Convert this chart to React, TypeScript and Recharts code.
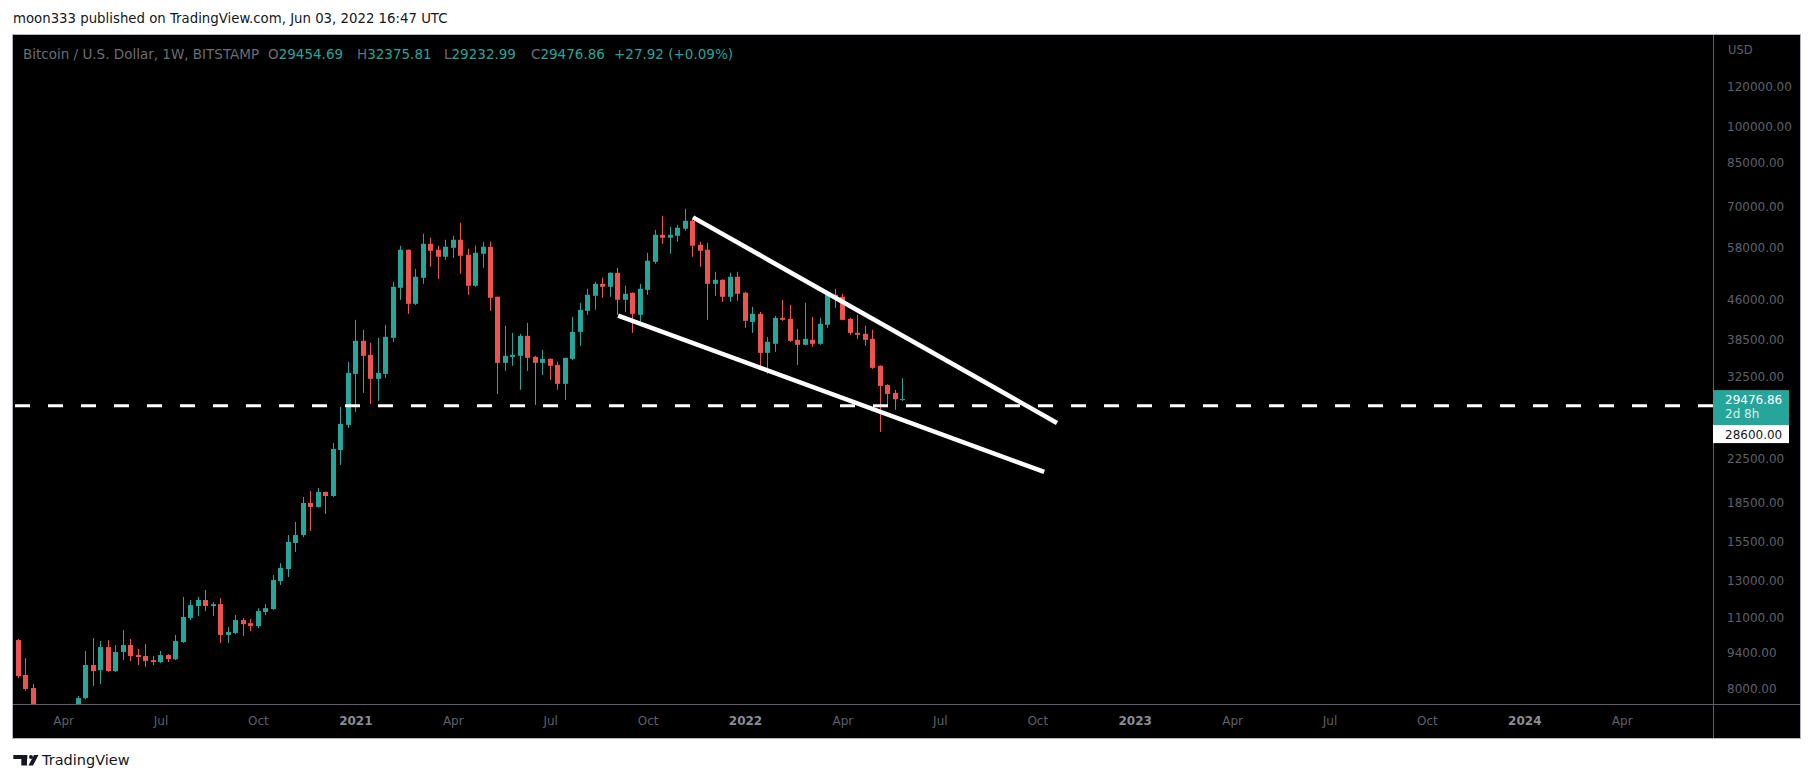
import React from "react";
import { ComposedChart, Bar, XAxis, YAxis, ReferenceLine } from "recharts";

const DAY = 86400000;
const EPOCH = Date.UTC(2020, 0, 1);
const toDay = (iso: string) => (Date.parse(iso + "T00:00:00Z") - EPOCH) / DAY;

const TEAL = "#26a69a";
const RED = "#ef5350";
const FONT = "'DejaVu Sans', Verdana, sans-serif";

// weekly candles, BTC/USD Bitstamp, first week starts 2020-02-17
const firstWeek = "2020-02-17";
const opens = [
  9700, 9980, 8530, 8045, 5360, 5830, 5880, 6780, 6900, 7120,
  7690, 8920, 8720, 9670, 8680, 9460, 9760, 9330, 9290, 9120,
  9040, 9330, 9160, 9890, 11020, 11630, 11950, 11630, 11730, 10210,
  10300, 10920, 10770, 10630, 11320, 11470, 13010, 13730, 15440, 16000,
  18480, 18150, 19420, 19070, 23450, 26250, 33010, 38300, 35960, 32280,
  33010, 38820, 48610, 57670, 45230, 50850, 59240, 57670, 55880, 58190,
  60320, 56380, 49050, 56640, 58450, 46700, 34690, 35640, 35800, 39170,
  35640, 34690, 35320, 34380, 31570, 35320, 39870, 43830, 46890, 49490,
  48830, 52000, 46050, 47530, 43050, 48170, 54640, 61690, 60870, 61410,
  63390, 65700, 58980, 57670, 49490, 50390, 46680, 51070, 47530, 41710,
  43240, 36280, 37790, 42470, 42280, 38470, 37620, 38470, 37790, 41160,
  47100, 46680, 42280, 39700, 39520, 38640, 34230, 31420, 30310, 29454.69,
];
const highs = [
  10250, 10030, 9205, 8190, 6900, 6990, 7200, 7460, 7300, 7760,
  9500, 10070, 9940, 9980, 9760, 10440, 10030, 9590, 9800, 9290,
  9500, 9370, 10210, 12110, 11950, 12110, 12500, 11840, 12050, 10580,
  11170, 11020, 10970, 11520, 11730, 13370, 14110, 16000, 16970, 18990,
  19510, 19770, 19450, 24200, 28460, 34850, 42090, 40240, 37950, 38820,
  41150, 49940, 58720, 57700, 52940, 61970, 60870, 58720, 60320, 61410,
  65110, 57930, 58720, 59780, 59780, 46700, 40970, 39700, 39520, 41530,
  35800, 36780, 35400, 34850, 35500, 42660, 45440, 48390, 49940, 50850,
  52100, 53180, 49050, 47600, 49490, 56900, 63100, 67200, 63960, 64530,
  69350, 66590, 59780, 59510, 52230, 50500, 52000, 52230, 47740, 44620,
  43630, 38990, 42850, 46050, 45030, 40430, 45440, 42660, 42470, 47200,
  48390, 47310, 42470, 43050, 40970, 40240, 34300, 31500, 30720, 32375.81,
];
const lows = [
  9300, 8410, 7950, 3850, 4440, 5690, 5860, 6770, 6460, 6790,
  7650, 8120, 8190, 8650, 8645, 9120, 9080, 8920, 8840, 8920,
  9000, 9040, 9120, 9850, 10920, 11120, 11370, 11120, 9850, 9850,
  10250, 10160, 10390, 10530, 11170, 11420, 12780, 13250, 14830, 15850,
  16300, 18100, 17590, 19000, 21930, 25900, 27830, 30310, 28850, 29240,
  32430, 38120, 46050, 43240, 45000, 49490, 53420, 50620, 55130, 55630,
  51770, 47100, 48800, 53180, 43830, 30170, 33460, 34230, 30730, 33460,
  28720, 32870, 32140, 30730, 29370, 35100, 37450, 43050, 44030, 46470,
  46680, 43050, 43630, 39700, 40970, 47100, 54160, 59240, 56640, 59780,
  62820, 55880, 53420, 42090, 46890, 45640, 45640, 45850, 40610, 39700,
  34070, 33010, 36450, 41900, 38120, 34380, 37500, 37280, 37620, 40610,
  44430, 42000, 39350, 38640, 37450, 33760, 25430, 28720, 28090, 29232.99,
];
const closes = [
  9980, 8490, 8010, 5360, 5830, 5880, 6780, 6900, 7120, 7690,
  8920, 8680, 9670, 8680, 9460, 9760, 9290, 9245, 9080, 9040,
  9330, 9160, 9940, 11070, 11680, 11950, 11630, 11730, 10210, 10350,
  10920, 10720, 10630, 11370, 11520, 13070, 13800, 15510, 16000, 18480,
  18150, 19420, 19070, 23560, 26370, 33160, 38300, 35800, 32280, 33160,
  38990, 48830, 57670, 45230, 51070, 59240, 57410, 55880, 58450, 60320,
  56130, 49050, 56900, 58450, 46470, 34690, 35800, 35960, 39170, 35480,
  34690, 35320, 34230, 31570, 35480, 39870, 44030, 47100, 49490, 48830,
  52000, 46050, 47310, 43240, 48390, 54890, 61690, 60870, 61690, 63670,
  65700, 58720, 57410, 49490, 50390, 46680, 51070, 47310, 41900, 43240,
  36280, 38120, 42470, 42090, 38300, 37620, 38640, 37790, 41340, 47100,
  46260, 42090, 39700, 39350, 38470, 33920, 31280, 30170, 29455, 29476.86,
];

// time axis: first weekly bar of each labelled month
const timeTicks = [
  "2020-04-06", "2020-07-06", "2020-10-05", "2021-01-04", "2021-04-05", "2021-07-05",
  "2021-10-04", "2022-01-03", "2022-04-04", "2022-07-04", "2022-10-03", "2023-01-02",
  "2023-04-03", "2023-07-03", "2023-10-02", "2024-01-01", "2024-04-01",
];
const timeLabels = [
  "Apr", "Jul", "Oct", "2021", "Apr", "Jul", "Oct", "2022", "Apr",
  "Jul", "Oct", "2023", "Apr", "Jul", "Oct", "2024", "Apr",
];

const priceTicks = [
  8000, 9400, 11000, 13000, 15500, 18500, 22500, 32500, 38500, 46000, 58000, 70000, 85000,
  100000, 120000,
];

// drawn wedge lines: [start date, start price, end date, end price]
const trendLines: [string, number, string, number][] = [
  ["2021-11-15", 66700, "2022-10-21", 26480],
  ["2021-09-06", 42900, "2022-10-09", 21250],
];
const levelPrice = 28600;
const lastPrice = 29476.86;

const rows = opens.map((o, i) => ({
  t: toDay(firstWeek) + 7 * i,
  o,
  h: highs[i],
  l: lows[i],
  c: closes[i],
}));

function Candle(props: any) {
  const { x, y, width, height, payload } = props;
  if (x == null || y == null || !payload) return null;
  const { o, h, l, c } = payload;
  const top = Math.min(y, y + height);
  const span = Math.abs(height);
  const lh = Math.log(h);
  const ll = Math.log(l);
  const py = (v: number) => top + (span * (lh - Math.log(v))) / (lh - ll);
  const color = c >= o ? TEAL : RED;
  const cx = Math.floor(x + width / 2);
  const bTop = py(Math.max(o, c));
  const bBot = py(Math.min(o, c));
  return (
    <g>
      <rect x={cx} y={top} width={1} height={span} fill={color} />
      <rect x={cx - 2} y={bTop} width={5} height={Math.max(1, bBot - bTop)} fill={color} />
    </g>
  );
}

function PriceTick(props: any) {
  const { x, y, payload } = props;
  return (
    <text x={x} y={y} dominantBaseline="central" textAnchor="start" fill="#5d606b" fontSize={12} fontFamily={FONT}>
      {Number(payload.value).toFixed(2)}
    </text>
  );
}

function TimeTick(props: any) {
  const { x, payload } = props;
  const i = timeTicks.findIndex((d) => Math.abs(toDay(d) - payload.value) < 0.01);
  const label = i >= 0 ? timeLabels[i] : "";
  const isYear = /^\d{4}$/.test(label);
  return (
    <text
      x={x}
      y={721}
      dominantBaseline="central"
      textAnchor="middle"
      fill={isYear ? "#8a8d96" : "#5d606b"}
      fontWeight={isYear ? "bold" : "normal"}
      fontSize={12}
      fontFamily={FONT}
    >
      {label}
    </text>
  );
}

function LastPriceLabel(props: any) {
  const vb = props.viewBox || {};
  const x = vb.x + vb.width;
  const y = vb.y;
  return (
    <g>
      <rect x={x} y={y - 9} width={76} height={35} fill={TEAL} />
      <text x={x + 12} y={y + 1} dominantBaseline="central" fill="#fff" fontSize={12} fontFamily={FONT}>
        {lastPrice.toFixed(2)}
      </text>
      <text x={x + 12} y={y + 15} dominantBaseline="central" fill="#d6efec" fontSize={12} fontFamily={FONT}>
        2d 8h
      </text>
      <rect x={x} y={y + 26} width={76} height={18} fill="#fff" />
      <text x={x + 12} y={y + 35.5} dominantBaseline="central" fill="#131722" fontSize={12} fontFamily={FONT}>
        {levelPrice.toFixed(2)}
      </text>
    </g>
  );
}

function Logo() {
  return (
    <svg width={30} height={12} style={{ position: "absolute", left: 13, top: 754 }}>
      <rect x={0.3} y={1} width={14} height={4} fill="#131722" />
      <rect x={8.3} y={1} width={5.7} height={10.5} fill="#131722" />
      <circle cx={18} cy={3} r={2} fill="#131722" />
      <polygon points="21,1 25.5,1 20,11.5 15.5,11.5" fill="#131722" />
    </svg>
  );
}

export default function App() {
  const txt: React.CSSProperties = { position: "absolute", fontFamily: FONT, whiteSpace: "nowrap", lineHeight: "16px" };
  const legendParts: [number, string, string][] = [
    [268, "O", "29454.69"],
    [357, "H", "32375.81"],
    [444, "L", "29232.99"],
    [531, "C", "29476.86"],
  ];
  return (
    <div style={{ position: "absolute", left: 0, top: 0, width: 1813, height: 783, background: "#fff", overflow: "hidden" }}>
      <div style={{ ...txt, left: 13, top: 11, fontSize: 13.3, color: "#131722" }}>
        moon333 published on TradingView.com, Jun 03, 2022 16:47 UTC
      </div>
      <div
        style={{
          position: "absolute",
          left: 12,
          top: 34,
          width: 1789,
          height: 705,
          boxSizing: "border-box",
          border: "1px solid #b2b5be",
          background: "#000",
        }}
      />
      <div style={{ position: "absolute", left: 1713, top: 35, width: 1, height: 703, background: "#5d606b" }} />
      <div style={{ position: "absolute", left: 13, top: 704, width: 1787, height: 1, background: "#5d606b" }} />
      <div style={{ position: "absolute", left: 0, top: 0 }}>
        <ComposedChart width={1813} height={783} data={rows} margin={{ top: 35, right: 13, bottom: 46, left: 13 }}>
          <XAxis
            type="number"
            dataKey="t"
            domain={[48.7, 1636.8]}
            allowDataOverflow
            ticks={timeTicks.map(toDay)}
            interval={0}
            height={33}
            axisLine={false}
            tickLine={false}
            tick={(p: any) => <TimeTick {...p} />}
          />
          <YAxis
            orientation="right"
            scale="log"
            domain={[7488, 151400]}
            allowDataOverflow
            ticks={priceTicks}
            interval={0}
            width={87}
            axisLine={false}
            tickLine={false}
            tickMargin={8}
            tick={(p: any) => <PriceTick {...p} />}
          />
          <Bar
            dataKey={(r: any) => [r.l, r.h]}
            barSize={5}
            isAnimationActive={false}
            shape={(p: any) => <Candle {...p} />}
          />
          <ReferenceLine y={lastPrice} stroke="none" label={(p: any) => <LastPriceLabel {...p} />} />
          <ReferenceLine y={levelPrice} stroke="#ffffff" strokeWidth={3} strokeDasharray="15 18" />
          {trendLines.map(([d1, p1, d2, p2], i) => (
            <ReferenceLine
              key={i}
              segment={[
                { x: toDay(d1), y: p1 },
                { x: toDay(d2), y: p2 },
              ]}
              stroke="#ffffff"
              strokeWidth={4.5}
            />
          ))}
        </ComposedChart>
      </div>
      <div style={{ ...txt, left: 23, top: 46, fontSize: 13.5, color: "#6a6d78" }}>
        Bitcoin / U.S. Dollar, 1W, BITSTAMP
      </div>
      {legendParts.map(([x, k, v]) => (
        <div key={k} style={{ ...txt, left: x, top: 46, fontSize: 13.5, color: "#6a6d78" }}>
          {k}
          <span style={{ color: TEAL }}>{v}</span>
        </div>
      ))}
      <div style={{ ...txt, left: 614, top: 46, fontSize: 13.5, color: TEAL }}>+27.92 (+0.09%)</div>
      <div style={{ ...txt, left: 1728, top: 42, fontSize: 11.5, color: "#5d606b" }}>USD</div>
      <Logo />
      <div style={{ ...txt, left: 42, top: 752, fontSize: 14.5, lineHeight: "17px", color: "#131722" }}>TradingView</div>
    </div>
  );
}
